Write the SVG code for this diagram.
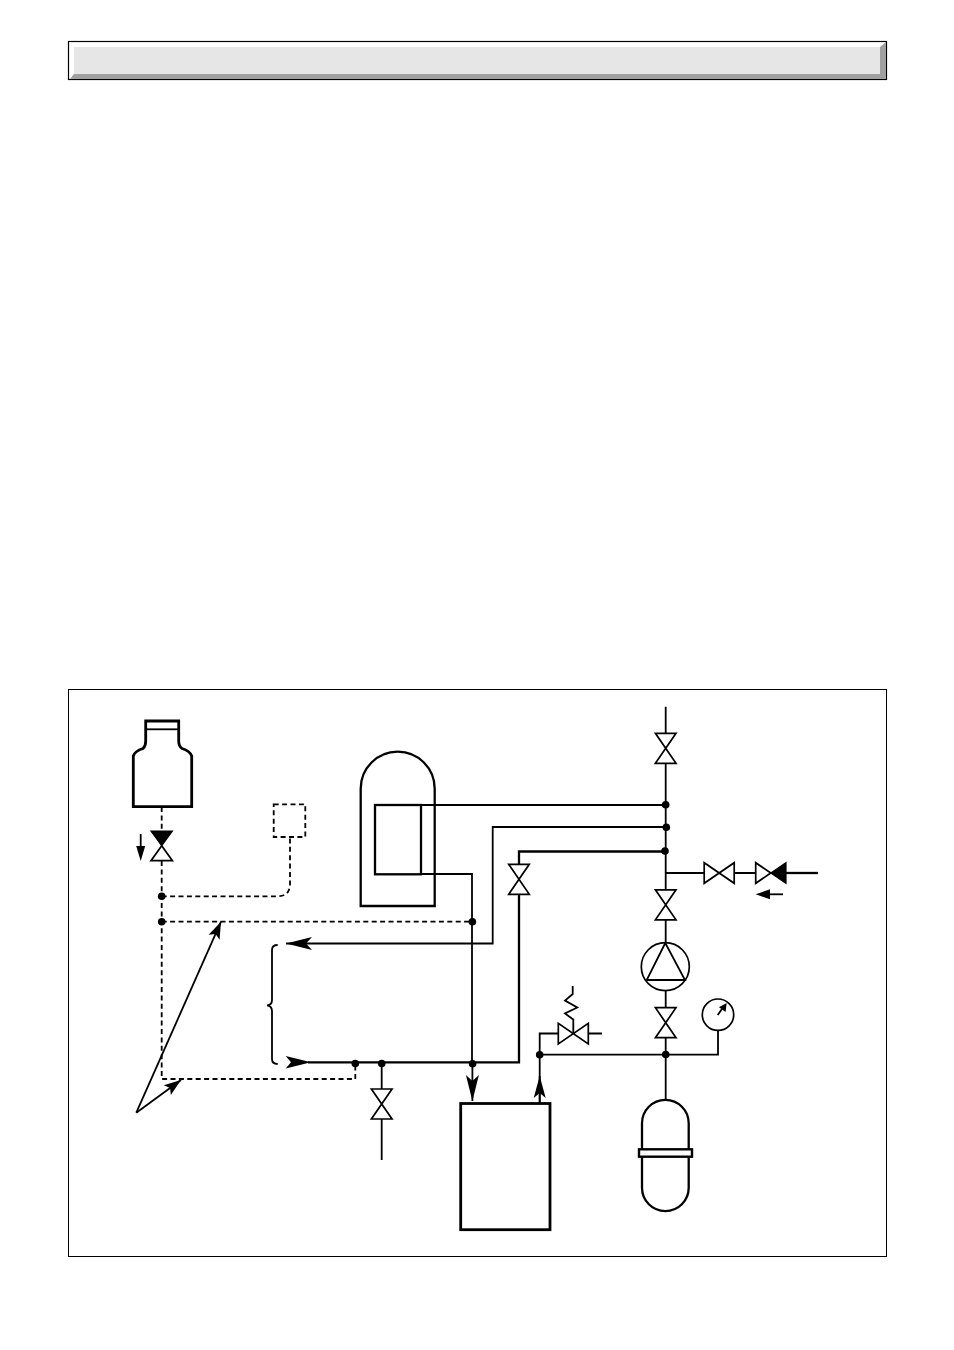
<svg xmlns="http://www.w3.org/2000/svg" width="954" height="1350" viewBox="0 0 954 1350">
<style>
.s{fill:none;stroke:#000;stroke-width:1.8}
.m{fill:none;stroke:#000;stroke-width:2.3}
.t{fill:none;stroke:#000;stroke-width:2.8}
.d{fill:none;stroke:#000;stroke-width:1.8;stroke-dasharray:5 3.4}
.w{fill:#fff;stroke:#000;stroke-width:1.7}
.k{fill:#000;stroke:#000;stroke-width:1.2}
.dot{fill:#000}
</style>
<defs>
<g id="vv"><path class="w" d="M-10.3 -15H10.3L-10.3 15H10.3Z"/></g>
<g id="vh"><path class="w" d="M-15 -10.3V10.3L15 -10.3V10.3Z"/></g>
<marker id="big" markerUnits="userSpaceOnUse" markerWidth="30" markerHeight="18" refX="26" refY="9" orient="auto" overflow="visible"><path d="M26 9L0 2.5L6 9L0 15.5Z" fill="#000"/></marker>
<marker id="mid" markerUnits="userSpaceOnUse" markerWidth="26" markerHeight="18" refX="22" refY="9" orient="auto" overflow="visible"><path d="M22 9L0 3L5 9L0 15Z" fill="#000"/></marker>
<marker id="sm" markerUnits="userSpaceOnUse" markerWidth="20" markerHeight="16" refX="17" refY="8" orient="auto" overflow="visible"><path d="M17 8L0 2L3.5 8L0 14Z" fill="#000"/></marker>
</defs>
<rect width="954" height="1350" fill="#fff"/>
<g id="header">
<rect x="68.5" y="41.5" width="818" height="38" fill="#fff" stroke="#000" stroke-width="1.2"/>
<path d="M886 42V79H70L74 74H880V47Z" fill="#a0a0a0"/>
<rect x="74" y="47" width="806" height="27" fill="#e6e6e6"/>
</g>
<rect id="frame" x="68.5" y="689.5" width="818" height="567" fill="none" stroke="#000" stroke-width="1"/>
<g id="connectors">
<path class="d" d="M161.7 807V831M161.7 861V1079H355.3V1064"/>
<path class="d" d="M161.7 896.3H278Q290 896 290 884V837"/>
<path class="d" d="M161.7 921.7H472.3"/>
<path class="s" d="M421 805H665.7"/>
<path class="s" d="M421 874H472V1063.7"/>
<path class="s" d="M666 827H492.7V943.5H286" marker-end="url(#big)"/>
<path class="m" d="M665 851.5H519V864M519 894.7V1062.3H308"/>
<path class="s" d="M472.4 1063.7V1101" marker-end="url(#big)"/>
<path class="s" d="M539.7 1054.7V1103"/>
<path class="s" d="M539.7 1103V1076" marker-end="url(#mid)"/>
<path class="s" d="M665.7 706.7V733.3M665.7 763.3V889.7M665.7 920V943M665.7 990V1007.7M665.7 1037.7V1100"/>
<path class="s" d="M665.7 873H704M734.3 873H755.7"/>
<path class="m" d="M786 873H818"/>
<path class="s" d="M539.7 1054.7H718V1030"/>
<path class="s" d="M539.7 1054.7V1033.5H558.3M588.3 1033.5H602"/>
<path class="s" d="M381.7 1063V1089M381.7 1119V1160"/>
<path class="s" d="M136.3 1112.7L221 921.7" marker-end="url(#sm)"/>
<path class="s" d="M136.3 1112.7L181 1080" marker-end="url(#sm)"/>
<path class="s" d="M277.7 945Q272 945 272 950V1000Q272 1005 267 1005.3Q272 1006 272 1011V1059Q272 1064 277.7 1064"/>
<path class="s" d="M140.7 834V850"/>
<path d="M140.7 861L136.2 846H145.2Z" fill="#000"/>
<path class="s" d="M783 894.3H768"/>
<path d="M755.7 894.3L770 889.3V899.3Z" fill="#000"/>
<path class="dot" d="M311 1062.3L285.7 1056L291 1062.3L285.7 1068.6Z"/>
</g>
<g id="bottle">
<path class="t" d="M145.7 721H178.7V741Q178.7 746 182 748.5Q190 751 191.7 756V806.7H133.3V756Q135 751 143 748.5Q145.7 746 145.7 741Z" fill="#fff"/>
<path class="s" d="M146 729.3H178"/>
</g>
<g id="valve-fill"><path class="w" d="M151 860.7H172.4L161.7 845.7Z"/><path class="k" d="M151 831H172.4L161.7 845.7Z"/></g>
<rect id="sensor" class="d" x="273.7" y="804.3" width="31.6" height="32.7"/>
<g id="tank">
<path class="m" d="M360.7 906V788.7A37 37 0 0 1 434.7 788.7V906Z"/>
<rect class="m" x="375" y="805" width="46" height="69.3"/>
</g>
<use id="valve-return" href="#vv" x="519" y="879.3"/>
<use id="valve-top" href="#vv" x="665.7" y="748.3"/>
<use id="valve-mid" href="#vv" x="665.7" y="904.8"/>
<use id="valve-low" href="#vv" x="665.7" y="1022.7"/>
<use id="valve-drain" href="#vv" x="381.7" y="1104"/>
<use id="valve-fill2" href="#vh" x="719.2" y="873"/>
<g id="check-valve"><path class="w" d="M755.7 862.7V883.3L770.8 873Z"/><path class="k" d="M786 862.7V883.3L770.8 873Z"/></g>
<g id="pump"><circle class="w" cx="665.3" cy="966.7" r="24"/><path class="s" d="M665.3 943L646.7 980H685Z"/></g>
<g id="gauge"><circle class="w" cx="718" cy="1014.7" r="15.7"/><path class="s" d="M717.7 1015L723 1007.5"/><path d="M726.7 1003L725.6 1012L719 1007.3Z" fill="#000"/></g>
<g id="relief-valve"><use href="#vh" x="573.3" y="1033.7"/><path class="s" d="M573.3 1033.7V1019.5L565 1013.5L577.3 1007.5L565 1000.5L572.7 994V986"/></g>
<rect id="boiler" x="460.7" y="1103.5" width="89.3" height="126.2" fill="#fff" stroke="#000" stroke-width="2.8"/>
<g id="vessel">
<path class="m" d="M642 1123.3A23.35 23.35 0 0 1 688.7 1123.3V1187.7A23.35 23.35 0 0 1 642 1187.7Z" fill="#fff"/>
<rect x="639" y="1149.3" width="53" height="7.4" fill="#fff" stroke="#000" stroke-width="2.4"/>
</g>
<g id="junctions" class="dot">
<circle cx="161.7" cy="896.3" r="3.8"/><circle cx="161.7" cy="921.7" r="3.8"/>
<circle cx="472.4" cy="921.7" r="3.8"/><circle cx="472.6" cy="1063.7" r="3.8"/>
<circle cx="355.3" cy="1063.5" r="3.8"/><circle cx="381.7" cy="1063.5" r="3.8"/>
<circle cx="665.7" cy="804.7" r="3.8"/><circle cx="666.3" cy="827.3" r="3.8"/><circle cx="665" cy="851" r="3.8"/>
<circle cx="665.7" cy="1054.5" r="3.8"/><circle cx="539.7" cy="1054.7" r="3.8"/>
</g>
</svg>
